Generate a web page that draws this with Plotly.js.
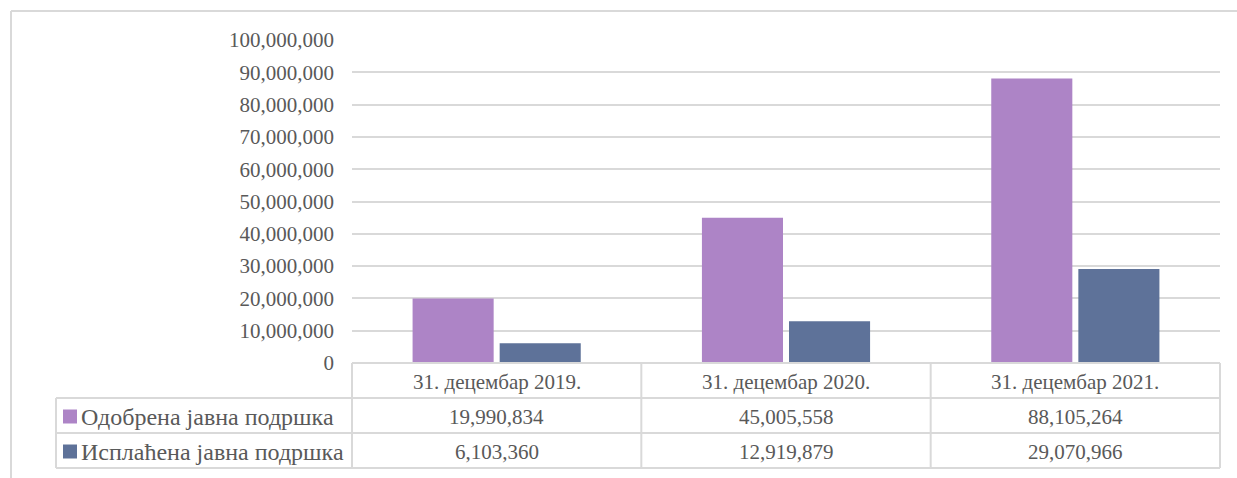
<!DOCTYPE html>
<html>
<head>
<meta charset="utf-8">
<script src="https://cdn.plot.ly/plotly-3.0.1.min.js"></script>
<style>
  html, body { margin: 0; padding: 0; background: #ffffff; }
  #chart { width: 1237px; height: 478px; }
</style>
</head>
<body>
<div id="chart"></div>
<script>
// ---- data ----
const categories = ['31. децембар 2019.', '31. децембар 2020.', '31. децембар 2021.'];
const seriesNames = ['Одобрена јавна подршка', 'Исплаћена јавна подршка'];
const approved = [19990834, 45005558, 88105264];
const paid = [6103360, 12919879, 29070966];
const seriesColors = ['#AD84C6', '#5E7299'];

// ---- geometry helpers (pixel -> paper) ----
const W = 1237, H = 478;
const M = { l: 352, r: 17, t: 40, b: 115 };
const PW = W - M.l - M.r, PH = H - M.t - M.b;
const X0 = M.l, Y0 = H - M.b; // plot left, plot bottom (pixels)
const px = p => (p - X0) / PW;
const py = p => (Y0 - p) / PH;

const textColor = '#595959';
const lineColor = '#D9D9D9';
const fontFam = 'Liberation Serif';
const fs = 21;
const fsLabel = 24;

const fmt = v => v.toLocaleString('en-US');

const traces = [
  { type: 'bar', name: seriesNames[0], x: categories, y: approved,
    marker: { color: seriesColors[0] }, hoverinfo: 'x+y' },
  { type: 'bar', name: seriesNames[1], x: categories, y: paid,
    marker: { color: seriesColors[1] }, hoverinfo: 'x+y' }
];

// table row pixel boundaries
const rowY = [363, 398, 433, 468];
const tableLeft = 56;

const shapes = [];
const L = (x0, y0, x1, y1, xref) => shapes.push({
  type: 'line', xref: xref || 'paper', yref: 'paper',
  x0: x0, y0: y0, x1: x1, y1: y1,
  line: { color: lineColor, width: 2 }
});
// outer border (top and left)
L(px(11), py(11), px(W + 5), py(11));
L(px(11), py(11), px(11), py(H + 5));
// horizontal table lines
L(0, py(rowY[0]), 1, py(rowY[0]));
for (let i = 1; i < rowY.length; i++) L(px(tableLeft), py(rowY[i]), 1, py(rowY[i]));
// vertical table lines
L(px(tableLeft), py(rowY[1]), px(tableLeft), py(rowY[3]));
L(0, py(rowY[0]), 0, py(rowY[3]));
L(1, py(rowY[0]), 1, py(rowY[3]));
for (let i = 0; i < categories.length - 1; i++) {
  L(i + 0.5, py(rowY[0]), i + 0.5, py(rowY[3]), 'x');
}
// legend keys
seriesColors.forEach((c, i) => {
  const mid = (rowY[i + 1] + rowY[i + 2]) / 2 + 1;
  shapes.push({ type: 'rect', xref: 'paper', yref: 'paper',
    x0: px(63), x1: px(77), y0: py(mid - 7), y1: py(mid + 7),
    fillcolor: c, line: { width: 0 } });
});

const annotations = [];
const A = (x, y, text, xref, xanchor, size) => annotations.push({
  x: x, y: y, xref: xref || 'paper', yref: 'paper', text: text,
  showarrow: false, xanchor: xanchor || 'center', yanchor: 'middle',
  font: { family: fontFam, size: size || fs, color: textColor }
});
// header
categories.forEach((c, i) => A(i, py((rowY[0] + rowY[1]) / 2 + 1), c, 'x'));
// rows
const rows = [approved, paid];
rows.forEach((vals, r) => {
  const mid = (rowY[r + 1] + rowY[r + 2]) / 2 + 1;
  A(px(79), py(mid), seriesNames[r], 'paper', 'left', fsLabel);
  vals.forEach((v, i) => A(i, py(mid), fmt(v), 'x'));
});

const layout = {
  width: W, height: H,
  margin: M,
  paper_bgcolor: '#ffffff', plot_bgcolor: '#ffffff',
  showlegend: false,
  barmode: 'group',
  bargap: 0.398,
  bargroupgap: 0.069,
  font: { family: fontFam, size: fs, color: textColor },
  xaxis: {
    type: 'category', range: [-0.5, 2.5],
    showticklabels: false, showgrid: false, zeroline: false, showline: false,
    fixedrange: true
  },
  yaxis: {
    range: [0, 100000000], dtick: 10000000, tick0: 0,
    tickformat: ',d',
    showgrid: true, gridcolor: lineColor, gridwidth: 2,
    zeroline: false, showline: false,
    ticks: '', ticklabelstandoff: 17,
    tickfont: { family: fontFam, size: fs, color: textColor },
    fixedrange: true
  },
  shapes: shapes,
  annotations: annotations
};

Plotly.newPlot('chart', traces, layout, { displayModeBar: false, staticPlot: true });
</script>
</body>
</html>
